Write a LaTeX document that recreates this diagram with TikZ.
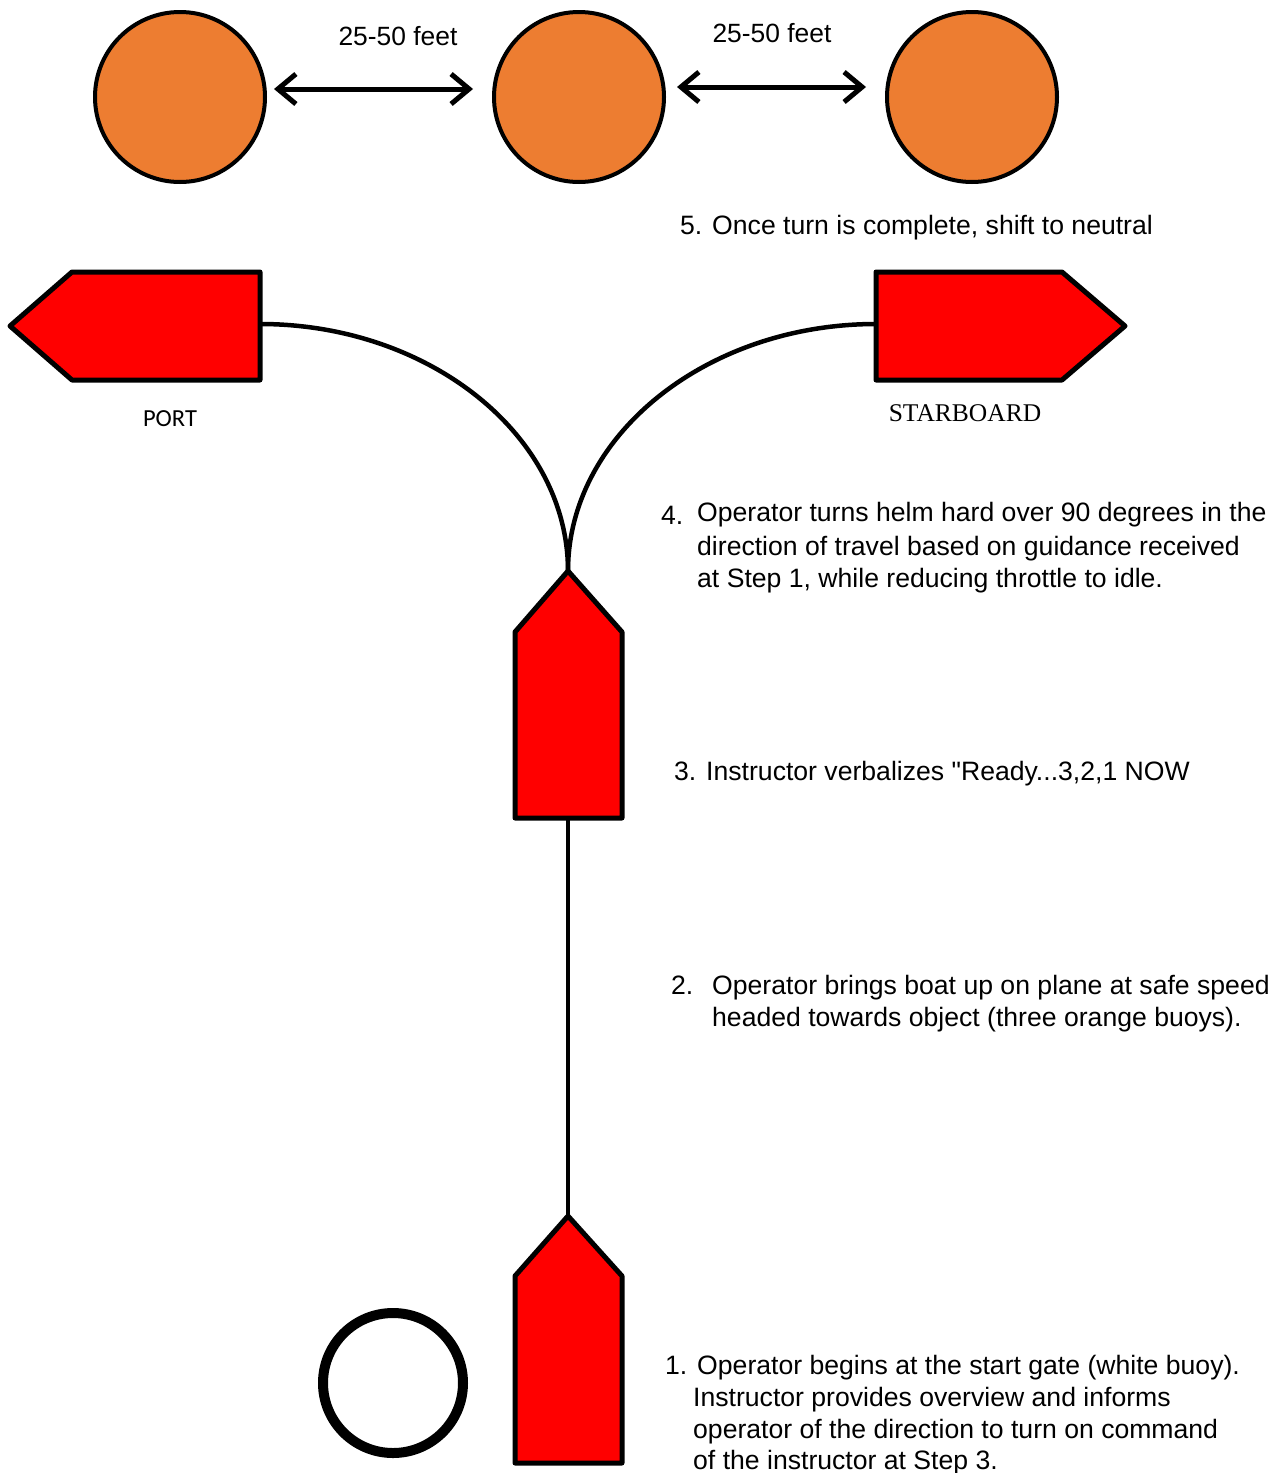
\documentclass[tikz,border=0pt]{standalone}
\usepackage{fontspec}
\setmainfont{Liberation Sans}[Ligatures=TeXOff]
\newfontfamily\calibri{Carlito}
\newfontfamily\timesf{Liberation Serif}
\usetikzlibrary{arrows.meta}
\definecolor{buoyorange}{HTML}{ED7D31}
\definecolor{boatred}{HTML}{FF0000}
\tikzset{
  buoy/.style={circle, draw=black, line width=4pt, fill=buoyorange, minimum size=170pt, inner sep=0pt},
  startbuoy/.style={circle, draw=black, line width=10pt, fill=white, minimum size=140pt, inner sep=0pt},
  boat/.style={draw=black, line width=5pt, fill=boatred, line join=round},
  track/.style={draw=black, line width=4.5pt},
  distarrow/.style={draw=black, line width=5pt, {Straight Barb[length=18pt,width=30pt]}-{Straight Barb[length=18pt,width=30pt]}},
  lbl/.style={inner sep=0pt, anchor=base west, font=\fontsize{26.6}{31}\selectfont},
  dist/.style={inner sep=0pt, anchor=base, font=\fontsize{26.4}{31}\selectfont}
}
\begin{document}
\begin{tikzpicture}[x=1pt,y=-1pt]
\useasboundingbox (0,0) rectangle (1288,1473);
% buoys
\node[buoy] (b1) at (180,97) {};
\node[buoy] (b2) at (579,97) {};
\node[buoy] (b3) at (972,97) {};
\coordinate (a1s) at (274,89);
\coordinate (a1e) at (473,89);
\coordinate (a2s) at (677,87);
\coordinate (a2e) at (866,87);
\draw[distarrow] (a1s) -- (a1e);
\draw[distarrow] (a2s) -- (a2e);
\node[dist] (d1) at (398,45) {25-50 feet};
\node[dist] (d2) at (772,42) {25-50 feet};
% step 5
\node[lbl] (s5) at (680,234) {5. Once turn is complete, shift to neutral};
% port boat
\coordinate (portR) at (260,324);
\draw[boat] (10,326) -- (72,272) -- (260,272) -- (260,380) -- (72,380) -- cycle;
\node[inner sep=0pt, anchor=base, font=\calibri\fontsize{24.5}{29}\selectfont] (portl) at (170,426) {PORT};
% starboard boat
\coordinate (stbL) at (876,324);
\draw[boat] (876,272) -- (1062,272) -- (1125,326) -- (1062,380) -- (876,380) -- cycle;
\node[inner sep=0pt, anchor=base, font=\timesf\fontsize{25.5}{30}\selectfont] (stbl) at (965,421) {STARBOARD};
% middle boat
\coordinate (midTip) at (568,571);
\coordinate (midTail) at (568,818);
\draw[boat] (midTip) -- (622,632) -- (622,818) -- (515,818) -- (515,632) -- cycle;
% bottom boat
\coordinate (botTip) at (568,1216);
\draw[boat] (botTip) -- (622,1276) -- (622,1463) -- (515,1463) -- (515,1276) -- cycle;
% tracks
\draw[track] (portR) .. controls (429,324) and (568,435) .. (midTip);
\draw[track] (stbL) .. controls (707,324) and (568,435) .. (midTip);
\draw[track] (midTail) -- (botTip);
% start buoy
\node[startbuoy] (sb) at (393,1383) {};
% step 4
\node[lbl] (s4n) at (661,524) {4.};
\node[lbl] (s4a) at (697,521) {Operator turns helm hard over 90 degrees in the};
\node[lbl] (s4b) at (697,555) {direction of travel based on guidance received};
\node[lbl] (s4c) at (697,587) {at Step 1, while reducing throttle to idle.};
% step 3
\node[lbl] (s3) at (674,780) {3. Instructor verbalizes "Ready...3,2,1 NOW};
% step 2
\node[lbl] (s2n) at (671,994) {2.};
\node[lbl] (s2a) at (712,994) {Operator brings boat up on plane at safe speed};
\node[lbl] (s2b) at (712,1026) {headed towards object (three orange buoys).};
% step 1
\node[lbl] (s1a) at (665,1374) {1. Operator begins at the start gate (white buoy).};
\node[lbl] (s1b) at (693,1406) {Instructor provides overview and informs};
\node[lbl] (s1c) at (693,1438) {operator of the direction to turn on command};
\node[lbl] (s1d) at (693,1469) {of the instructor at Step 3.};
\end{tikzpicture}
\end{document}
